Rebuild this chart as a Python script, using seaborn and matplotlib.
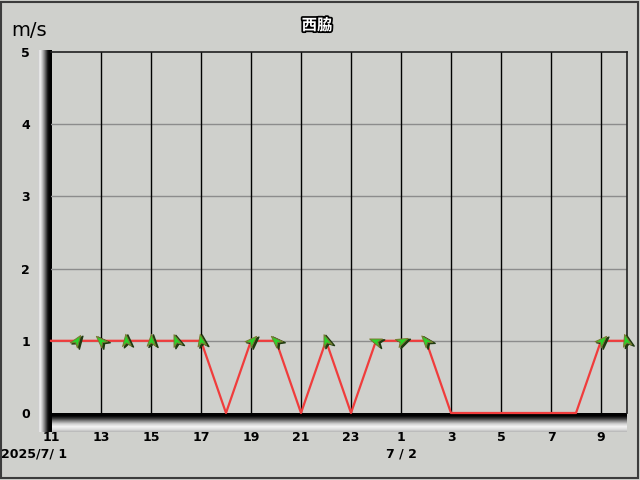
import numpy as np
import pandas as pd
import matplotlib
matplotlib.use("Agg")
import matplotlib.pyplot as plt
import matplotlib.patheffects as pe
from matplotlib.path import Path
from matplotlib.markers import MarkerStyle
from matplotlib.transforms import Affine2D
from matplotlib.colors import LinearSegmentedColormap
import seaborn as sns

# Data: hourly wind speed (m/s) at 西脇, 2025/7/1 11:00 -> 7/2 10:00
hour_labels = ["11", "12", "13", "14", "15", "16", "17", "18", "19", "20", "21", "22",
               "23", "0", "1", "2", "3", "4", "5", "6", "7", "8", "9", "10"]
speed = [1, 1, 1, 1, 1, 1, 1, 0, 1, 1, 0, 1, 0, 1, 1, 1, 0, 0, 0, 0, 0, 0, 1, 1]
# arrow rotation (deg, counter-clockwise from up); None = calm, no arrow
arrow_rot = [None, -35, 45, 5, 0, 20, 10, None, -45, 45, None, 20,
             None, 70, -65, 40, None, None, None, None, None, None, -45, 15]
tick_labels = ["11", "13", "15", "17", "19", "21", "23", "1", "3", "5", "7", "9"]

BG = "#cfd0cc"
df = pd.DataFrame({"t": np.arange(len(speed)), "speed": speed})

fig = plt.figure(figsize=(6.4, 4.8), dpi=100, facecolor=BG)
W, H = 640, 480

def fx(px):
    return px / W

def fy(py):
    return 1 - py / H

# 3D-ish shaded axis bands
bot_cmap = LinearSegmentedColormap.from_list("b", ["#000000", "#000000", "#3a3a3a", "#8a8a8a",
                                                    "#d0d0d0", "#f4f4f4", "#e0e0e0", "#b8b8b8"])
left_cmap = LinearSegmentedColormap.from_list("l", ["#c8c8c8", "#f2f2f2", "#c8c8c8", "#909090",
                                                     "#505050", "#101010", "#000000", "#000000"])
bax = fig.add_axes([fx(38), fy(432), fx(627 - 38), fy(413) - fy(432)], zorder=0)
bax.imshow(np.linspace(0, 1, 50)[:, None], aspect="auto", cmap=bot_cmap, extent=(0, 1, 0, 1))
bax.axis("off")
lax = fig.add_axes([fx(38), fy(432), fx(52 - 38), fy(50) - fy(432)], zorder=0)
lax.imshow(np.linspace(0, 1, 50)[None, :], aspect="auto", cmap=left_cmap, extent=(0, 1, 0, 1))
lax.axis("off")

ax = fig.add_axes([fx(51), fy(413), fx(627 - 51), fy(52) - fy(413)], zorder=2)
ax.set_facecolor("none")
ax.set_xlim(0, 23.04)
ax.set_ylim(0, 5)

# grid
for y in range(1, 5):
    ax.axhline(y, color="#8c8c8c", lw=1.0, zorder=1)
for t in range(2, 24, 2):
    ax.axvline(t, color="black", lw=1.0, zorder=1)

sns.lineplot(data=df, x="t", y="speed", ax=ax, color="#f03c3c", lw=1.6,
             zorder=3, clip_on=False, legend=False)

arrow_path = Path([(0, 1), (-0.6, -0.65), (0, -0.2), (0.6, -0.65), (0, 1)],
                  [Path.MOVETO, Path.LINETO, Path.LINETO, Path.LINETO, Path.CLOSEPOLY])
for t, (s, r) in enumerate(zip(speed, arrow_rot)):
    if r is None:
        continue
    m = MarkerStyle(arrow_path, transform=Affine2D().rotate_deg(r))
    ax.plot(t + 0.06, s - 0.015, marker=m, ms=11, color="#1f3a10", mec="#1f3a10",
            zorder=4, clip_on=False)
    ax.plot(t, s, marker=m, ms=10.5, color="#2ad42a", mec="#7a7a30", mew=0.7,
            zorder=5, clip_on=False)

for side in ["top", "right"]:
    ax.spines[side].set_color("#202020")
    ax.spines[side].set_linewidth(1.2)
ax.spines["left"].set_visible(False)
ax.spines["bottom"].set_visible(False)

ax.set_xticks(np.arange(0, 24, 2))
ax.set_xticklabels(tick_labels)
ax.set_yticks(range(0, 6))
ax.set_yticklabels([str(v) for v in range(0, 6)])
ax.tick_params(axis="x", length=0, pad=13, labelsize=9)
ax.tick_params(axis="y", length=0, pad=15, labelsize=9)
for lab in ax.get_xticklabels() + ax.get_yticklabels():
    lab.set_fontweight("bold")
ax.set_xlabel("")
ax.set_ylabel("")

fig.text(fx(29), fy(30), "m/s", fontsize=14, ha="center", va="center")
fig.text(fx(317), fy(25), "西脇", fontsize=11, fontweight="bold", color="white",
         ha="center", va="center", family=["Noto Sans CJK JP", "DejaVu Sans"],
         path_effects=[pe.withStroke(linewidth=2.5, foreground="black")])
fig.text(fx(34), fy(454), "2025/7/ 1", fontsize=9, fontweight="bold", ha="center", va="center")
fig.text(fx(401), fy(454), "7 / 2", fontsize=9, fontweight="bold", ha="center", va="center")

# outer frame
fig.patches.append(plt.Rectangle((fx(1), fy(478)), fx(637), fy(2) - fy(478),
                                 transform=fig.transFigure, fill=False,
                                 edgecolor="#3c3c3c", lw=1.5))

fig.savefig("out.png", dpi=100, facecolor=BG)
